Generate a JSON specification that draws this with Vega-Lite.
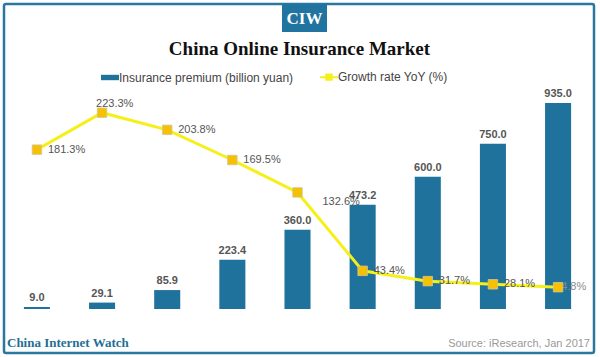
{
  "$schema": "https://vega.github.io/schema/vega-lite/v6.json",
  "autosize": {"type": "none"},
  "width": 585,
  "height": 215,
  "padding": {"left": 5, "top": 94, "right": 10, "bottom": 48},
  "background": "white",
  "title": {
    "text": "China Online Insurance Market",
    "font": "Liberation Serif",
    "fontSize": 19,
    "fontWeight": "bold",
    "color": "#111",
    "anchor": "middle",
    "baseline": "alphabetic",
    "dx": 2,
    "offset": -71
  },
  "config": {"view": {"stroke": null}},
  "data": {
    "values": [
      {"year": "2012", "premium": 9.0, "growth": 181.3},
      {"year": "2013", "premium": 29.1, "growth": 223.3},
      {"year": "2014", "premium": 85.9, "growth": 203.8},
      {"year": "2015", "premium": 223.4, "growth": 169.5},
      {"year": "2016e", "premium": 360.0, "growth": 132.6},
      {"year": "2017e", "premium": 473.2, "growth": 43.4},
      {"year": "2018e", "premium": 600.0, "growth": 31.7},
      {"year": "2019e", "premium": 750.0, "growth": 28.1},
      {"year": "2020e", "premium": 935.0, "growth": 24.8}
    ]
  },
  "encoding": {
    "x": {
      "field": "year",
      "type": "ordinal",
      "sort": null,
      "scale": {"paddingInner": 0.6, "paddingOuter": 0.29},
      "axis": {
        "title": null,
        "labelAngle": 0,
        "labelFont": "Liberation Sans",
        "labelFontSize": 11,
        "labelFontWeight": "bold",
        "labelColor": "#555",
        "labelPadding": 9,
        "ticks": false,
        "domainColor": "#8a8a8a",
        "domainWidth": 1
      }
    }
  },
  "layer": [
    {
      "data": {"values": [{}]},
      "mark": {"type": "rect", "fill": "white", "stroke": "#2a78a0", "strokeWidth": 2.5, "cornerRadius": 2},
      "encoding": {"x": {"value": -1}, "x2": {"value": 589}, "y": {"value": -90}, "y2": {"value": 259}}
    },
    {
      "mark": {"type": "bar"},
      "encoding": {
        "y": {"field": "premium", "type": "quantitative", "scale": {"domain": [0, 976]}, "axis": null},
        "color": {
          "datum": "Insurance premium (billion yuan)",
          "type": "nominal",
          "scale": {
            "domain": ["Insurance premium (billion yuan)", "Growth rate YoY (%)"],
            "range": ["#1f729b", "#f5f01a"]
          },
          "legend": {
            "orient": "none",
            "legendX": 99,
            "legendY": -23,
            "direction": "horizontal",
            "columns": 2,
            "columnPadding": 22,
            "title": null,
            "labelFont": "Liberation Sans",
            "labelFontSize": 12,
            "labelColor": "#444",
            "labelLimit": 300,
            "labelOffset": 3,
            "symbolSize": 324,
            "encode": {
              "symbols": {
                "update": {
                  "shape": {"signal": "datum.value === 'Growth rate YoY (%)' ? 'M-1,0H1M-0.3,-0.3H0.3V0.3H-0.3Z' : 'M-1,-0.3H1V0.3H-1Z'"},
                  "fill": {"signal": "datum.value === 'Growth rate YoY (%)' ? '#f7c000' : '#1f729b'"},
                  "stroke": {"signal": "datum.value === 'Growth rate YoY (%)' ? '#f5f01a' : '#1f729b'"},
                  "strokeWidth": {"signal": "datum.value === 'Growth rate YoY (%)' ? 2 : 0"},
                  "opacity": {"value": 1},
                  "fillOpacity": {"value": 1}
                }
              }
            }
          }
        }
      }
    },
    {
      "mark": {"type": "text", "dy": -6, "baseline": "alphabetic", "font": "Liberation Sans", "fontSize": 11, "fontWeight": "bold", "fill": "#555"},
      "encoding": {
        "y": {"field": "premium", "type": "quantitative", "scale": {"domain": [0, 976]}, "axis": null},
        "text": {"field": "premium", "type": "quantitative", "format": ".1f"}
      }
    },
    {
      "mark": {"type": "line", "strokeWidth": 3},
      "encoding": {
        "y": {"field": "growth", "type": "quantitative", "scale": {"domain": [0, 244.6]}, "axis": null},
        "color": {"datum": "Growth rate YoY (%)", "type": "nominal"}
      }
    },
    {
      "transform": [
        {"filter": "indexof(['2012','2014','2015','2017e','2018e','2019e'], datum.year) >= 0"},
        {"calculate": "format(datum.growth, '.1f') + '%'", "as": "glabel"}
      ],
      "mark": {"type": "text", "align": "left", "baseline": "middle", "dx": 11, "font": "Liberation Sans", "fontSize": 11, "fill": "#555"},
      "encoding": {
        "y": {"field": "growth", "type": "quantitative", "scale": {"domain": [0, 244.6]}, "axis": null},
        "text": {"field": "glabel", "type": "nominal"}
      }
    },
    {
      "transform": [
        {"filter": "datum.year === '2013'"},
        {"calculate": "format(datum.growth, '.1f') + '%'", "as": "glabel"}
      ],
      "mark": {"type": "text", "align": "left", "baseline": "middle", "dx": -6, "dy": -9, "font": "Liberation Sans", "fontSize": 11, "fill": "#555"},
      "encoding": {
        "y": {"field": "growth", "type": "quantitative", "scale": {"domain": [0, 244.6]}, "axis": null},
        "text": {"field": "glabel", "type": "nominal"}
      }
    },
    {
      "transform": [
        {"filter": "datum.year === '2016e'"},
        {"calculate": "format(datum.growth, '.1f') + '%'", "as": "glabel"}
      ],
      "mark": {"type": "text", "align": "left", "baseline": "middle", "dx": 25, "dy": 10, "font": "Liberation Sans", "fontSize": 11, "fill": "#555"},
      "encoding": {
        "y": {"field": "growth", "type": "quantitative", "scale": {"domain": [0, 244.6]}, "axis": null},
        "text": {"field": "glabel", "type": "nominal"}
      }
    },
    {
      "transform": [
        {"filter": "datum.year === '2020e'"},
        {"calculate": "format(datum.growth, '.1f') + '%'", "as": "glabel"}
      ],
      "mark": {"type": "text", "align": "left", "baseline": "middle", "dx": -3, "font": "Liberation Sans", "fontSize": 11, "fill": "#8a8a8a"},
      "encoding": {
        "y": {"field": "growth", "type": "quantitative", "scale": {"domain": [0, 244.6]}, "axis": null},
        "text": {"field": "glabel", "type": "nominal"}
      }
    },
    {
      "mark": {"type": "square", "size": 90, "fill": "#f7c000", "stroke": "#cfc7a0", "strokeWidth": 0.8, "opacity": 1},
      "encoding": {
        "y": {"field": "growth", "type": "quantitative", "scale": {"domain": [0, 244.6]}, "axis": null}
      }
    },
    {
      "data": {"values": [{}]},
      "mark": {"type": "rect", "fill": "#2173a0"},
      "encoding": {"x": {"value": 277}, "x2": {"value": 322}, "y": {"value": -90}, "y2": {"value": -62}}
    },
    {
      "data": {"values": [{"label": "CIW"}]},
      "mark": {"type": "text", "align": "center", "baseline": "middle", "font": "Liberation Serif", "fontSize": 17, "fontWeight": "bold", "fill": "white"},
      "encoding": {"x": {"value": 299.5}, "y": {"value": -75}, "text": {"field": "label"}}
    },
    {
      "data": {"values": [{"label": "China Internet Watch"}]},
      "mark": {"type": "text", "align": "left", "baseline": "alphabetic", "font": "Liberation Serif", "fontSize": 13, "fontWeight": "bold", "fill": "#1f6f97"},
      "encoding": {"x": {"value": 2}, "y": {"value": 253}, "text": {"field": "label"}}
    },
    {
      "data": {"values": [{"label": "Source: iResearch, Jan 2017"}]},
      "mark": {"type": "text", "align": "right", "baseline": "alphabetic", "font": "Liberation Sans", "fontSize": 11, "fill": "#999"},
      "encoding": {"x": {"value": 585}, "y": {"value": 253}, "text": {"field": "label"}}
    }
  ],
  "resolve": {"scale": {"y": "independent"}}
}
